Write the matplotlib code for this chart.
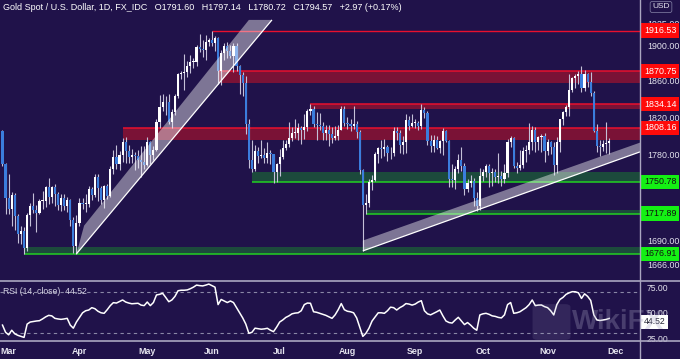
import numpy as np
import matplotlib
matplotlib.use("Agg")
import matplotlib.pyplot as plt
from matplotlib.ticker import FixedLocator, FixedFormatter, NullLocator
from matplotlib.patches import Polygon, FancyBboxPatch
from matplotlib.lines import Line2D

plt.rcParams['font.family'] = ['Liberation Sans', 'DejaVu Sans']

# daily bars, 25 Feb 2021 .. 29 Nov 2021
opens = [1805, 1770, 1734, 1723, 1737, 1715, 1697, 1700, 1683, 1716, 1726, 1722, 1719, 1731, 1731, 1745, 1735, 1745, 1738, 1727,
         1734, 1726, 1732, 1711, 1685, 1708, 1729, 1728, 1728, 1743, 1737, 1756, 1744, 1732, 1746, 1736, 1764, 1777, 1770, 1779,
         1793, 1783, 1777, 1779, 1778, 1774, 1772, 1769, 1793, 1779, 1785, 1815, 1831, 1837, 1836, 1815, 1826, 1843, 1867, 1869,
         1870, 1876, 1881, 1881, 1898, 1896, 1895, 1904, 1906, 1903, 1908, 1871, 1891, 1899, 1893, 1888, 1899, 1877, 1866, 1858,
         1812, 1774, 1764, 1783, 1778, 1779, 1776, 1781, 1780, 1761, 1770, 1777, 1787, 1791, 1797, 1803, 1803, 1808, 1806, 1809,
         1827, 1829, 1812, 1811, 1810, 1803, 1806, 1802, 1797, 1799, 1806, 1829, 1814, 1813, 1810, 1812, 1804, 1763, 1727, 1729,
         1751, 1753, 1780, 1787, 1786, 1788, 1781, 1781, 1805, 1803, 1790, 1793, 1817, 1810, 1814, 1814, 1810, 1828, 1824, 1794,
         1789, 1795, 1787, 1794, 1805, 1794, 1754, 1753, 1764, 1774, 1768, 1743, 1750, 1752, 1734, 1726, 1757, 1761, 1768, 1760,
         1761, 1756, 1757, 1754, 1760, 1793, 1797, 1768, 1765, 1769, 1783, 1784, 1793, 1806, 1793, 1798, 1800, 1783, 1793, 1788,
         1769, 1793, 1818, 1825, 1831, 1850, 1863, 1865, 1867, 1852, 1867, 1859, 1846, 1805, 1789, 1788, 1791, 1791.60]
highs = [1806, 1771, 1759, 1740, 1739, 1717, 1705, 1704, 1719, 1729, 1739, 1727, 1733, 1741, 1747, 1755, 1746, 1749, 1740, 1738,
         1738, 1735, 1733, 1714, 1716, 1734, 1734, 1738, 1746, 1745, 1759, 1759, 1746, 1748, 1749, 1768, 1785, 1790, 1783, 1797,
         1798, 1790, 1786, 1782, 1785, 1789, 1789, 1798, 1794, 1789, 1818, 1844, 1845, 1843, 1845, 1829, 1845, 1869, 1871, 1890,
         1882, 1889, 1886, 1900, 1913, 1906, 1912, 1908, 1916.5, 1910, 1909, 1895, 1903, 1904, 1900, 1903, 1903, 1878, 1870, 1865,
         1818, 1795, 1790, 1788, 1795, 1787, 1793, 1785, 1780, 1771, 1786, 1795, 1795, 1815, 1809, 1818, 1814, 1810, 1823, 1829,
         1834, 1832, 1825, 1824, 1815, 1811, 1811, 1809, 1810, 1811, 1832, 1832, 1820, 1818, 1832, 1816, 1806, 1764, 1738, 1754,
         1758, 1782, 1788, 1795, 1796, 1790, 1788, 1809, 1809, 1806, 1799, 1823, 1821, 1823, 1818, 1816, 1834, 1831, 1827, 1801,
         1801, 1800, 1795, 1808, 1806, 1795, 1770, 1767, 1780, 1788, 1771, 1754, 1758, 1755, 1740, 1765, 1764, 1770, 1770, 1765,
         1764, 1781, 1762, 1770, 1796, 1800, 1798, 1772, 1785, 1788, 1790, 1814, 1810, 1809, 1799, 1802, 1803, 1796, 1794, 1793,
         1798, 1818, 1827, 1833, 1868, 1864, 1868, 1871, 1877, 1872, 1869, 1870, 1849, 1812, 1795, 1795, 1815, 1797.14]
lows = [1767, 1717, 1717, 1705, 1701, 1688, 1687, 1677, 1680, 1705, 1719, 1699, 1718, 1723, 1725, 1728, 1729, 1726, 1722, 1721,
        1722, 1720, 1705, 1678, 1677, 1705, 1723, 1720, 1725, 1732, 1735, 1731, 1728, 1724, 1733, 1735, 1759, 1764, 1763, 1772,
        1771, 1771, 1771, 1763, 1765, 1756, 1764, 1767, 1770, 1774, 1783, 1808, 1827, 1822, 1813, 1808, 1822, 1841, 1862, 1850,
        1864, 1869, 1874, 1876, 1892, 1887, 1883, 1899, 1899, 1893, 1856, 1855, 1883, 1885, 1885, 1870, 1871, 1845, 1843, 1802,
        1765, 1761, 1762, 1771, 1776, 1771, 1771, 1770, 1750, 1751, 1757, 1775, 1785, 1788, 1794, 1797, 1795, 1791, 1796, 1805,
        1822, 1809, 1795, 1806, 1795, 1795, 1789, 1792, 1795, 1795, 1806, 1810, 1807, 1805, 1807, 1797, 1759, 1680, 1717, 1725,
        1742, 1752, 1771, 1776, 1778, 1773, 1775, 1778, 1795, 1781, 1780, 1781, 1806, 1809, 1808, 1806, 1807, 1819, 1790, 1782,
        1782, 1786, 1781, 1779, 1793, 1745, 1745, 1743, 1760, 1762, 1737, 1740, 1745, 1726, 1721, 1722, 1752, 1756, 1745, 1746,
        1751, 1750, 1746, 1750, 1756, 1788, 1765, 1760, 1763, 1765, 1772, 1780, 1785, 1782, 1784, 1782, 1772, 1779, 1780, 1758,
        1760, 1782, 1811, 1821, 1821, 1847, 1852, 1856, 1848, 1849, 1853, 1843, 1804, 1782, 1778, 1783, 1781, 1780.72]
closes = [1770, 1734, 1723, 1737, 1715, 1697, 1700, 1683, 1716, 1726, 1722, 1719, 1731, 1731, 1745, 1735, 1745, 1738, 1727, 1734,
          1726, 1732, 1711, 1685, 1708, 1729, 1728, 1728, 1743, 1737, 1756, 1744, 1732, 1746, 1736, 1764, 1777, 1770, 1779, 1793,
          1783, 1777, 1779, 1778, 1774, 1772, 1769, 1793, 1779, 1785, 1815, 1831, 1837, 1836, 1815, 1826, 1843, 1867, 1869, 1870,
          1876, 1881, 1881, 1898, 1896, 1895, 1904, 1906, 1903, 1908, 1871, 1891, 1899, 1893, 1888, 1899, 1877, 1866, 1858, 1812,
          1774, 1764, 1783, 1778, 1779, 1776, 1781, 1780, 1761, 1770, 1777, 1787, 1791, 1797, 1803, 1803, 1808, 1806, 1809, 1827,
          1829, 1812, 1811, 1810, 1803, 1806, 1802, 1797, 1799, 1806, 1829, 1814, 1813, 1810, 1812, 1804, 1763, 1727, 1729, 1751,
          1753, 1780, 1787, 1786, 1788, 1781, 1781, 1805, 1803, 1790, 1793, 1817, 1810, 1814, 1814, 1810, 1828, 1824, 1794, 1789,
          1795, 1787, 1794, 1805, 1794, 1754, 1753, 1764, 1774, 1768, 1743, 1750, 1752, 1734, 1726, 1757, 1761, 1768, 1760, 1761,
          1756, 1757, 1754, 1760, 1793, 1797, 1768, 1765, 1769, 1783, 1784, 1793, 1806, 1793, 1798, 1800, 1783, 1793, 1788, 1769,
          1793, 1818, 1825, 1831, 1850, 1863, 1865, 1867, 1852, 1867, 1859, 1846, 1805, 1789, 1788, 1791, 1791.6, 1794.57]

# RSI(14)
rsi = [38, 31, 28.5, 33, 29.5, 28, 27, 26, 39, 41, 41.5, 42, 42.3, 44, 46, 47.5, 47, 44.6, 44, 43.6,
       44, 44.6, 38, 35, 41, 45.5, 50, 52, 52.7, 55, 54, 51.5, 50, 49.5, 53, 57, 59.9, 59.5, 61, 62.5,
       60.5, 59.5, 58.8, 59, 59.3, 57.5, 57, 60.5, 57, 60, 67.4, 68, 69, 65, 60.8, 62.5, 66, 71.5, 72, 72,
       72.3, 73.5, 75, 77, 76.5, 76.2, 77, 78, 76.5, 75, 58, 63, 61.5, 60, 61.5, 60, 55, 50, 45, 39,
       30, 31, 35, 34.5, 34, 34.3, 34.9, 33, 31.6, 36, 41, 43, 45.5, 47, 49, 49.7, 50, 52, 58, 59.5,
       59.3, 51, 50.5, 49.5, 48.5, 47.5, 46, 44.6, 48, 53, 59, 53, 51.5, 51, 50, 45, 36, 27, 30, 35,
       42, 46, 50, 50, 49.5, 52, 55.5, 55, 52.7, 55, 56.6, 59, 58.5, 57.5, 58.5, 60.5, 61.8, 52, 49, 48,
       49.5, 51, 52.7, 47, 42, 40.5, 40, 43, 45.6, 42, 38.5, 40.5, 38, 35, 33, 47.9, 49, 49.5, 48.5, 47,
       46.5, 45.5, 45, 48, 58, 60, 49.5, 50, 51, 53, 55, 58, 62.5, 57, 57.5, 57.6, 56, 55, 52, 47.9,
       58, 63, 65, 68, 69.5, 70.6, 70.5, 69.5, 64, 68.5, 66, 62, 48, 43, 42.5, 43, 43.5, 44.52]

months = ['Mar', 'Apr', 'May', 'Jun', 'Jul', 'Aug', 'Sep', 'Oct', 'Nov', 'Dec']
month_bars = [2, 25, 47, 68, 90, 112, 134, 156, 177, 199]
price_ticks = [1666, 1690, 1780, 1820, 1860, 1900, 1925]
rsi_ticks = [25, 50, 75]

# horizontal zones: level, other edge of band, first bar
res_levels = [1870.75, 1834.14, 1808.16]
res_edges = [1857.0, 1828.5, 1795.5]
res_start = [70, 100, 39]
sup_levels = [1750.78, 1717.89, 1676.91]
sup_edges = [1761.0, 1722.0, 1684.0]
sup_start = [81, 118, 7]
top_level = 1916.53
top_start = 68

# trend wedges (bar, price); first two points are the drawn trendline
wedge1_x = [24, 87.5, 80.0, 26.5]
wedge1_y = [1677, 1928.9, 1928.9, 1705.6]
wedge2_x = [117, 207, 207, 117]
wedge2_y = [1680, 1782.5, 1792.4, 1690.4]

title = "Gold Spot / U.S. Dollar, 1D, FX_IDC   O1791.60   H1797.14   L1780.72   C1794.57   +2.97 (+0.17%)"

bg = '#20124a'
bull = '#ffffff'
bear = '#3b7ddd'
wick = '#c4c0d8'
grid_line = '#aaa6c0'
txt = '#e4e3ee'

W, H = 680, 359
fig = plt.figure(figsize=(6.8, 3.59), dpi=100, facecolor=bg)
ax = fig.add_axes([0, 1 - 279 / H, 640 / W, 279 / H], facecolor=bg)
rax = fig.add_axes([0, 1 - 341 / H, 640 / W, 60 / H], facecolor=bg)

x = np.arange(len(closes))
xmax = 207
o = np.array(opens); c = np.array(closes)
h = np.array(highs); l = np.array(lows)

# zones
for lev, edge, s in zip(res_levels, res_edges, res_start):
    ax.fill_between([s, xmax], edge, lev, color='#7a1236', lw=0, zorder=1)
    ax.hlines(lev, s, xmax, color='#e8102e', lw=1.1, zorder=2)
ax.hlines(top_level, top_start, xmax, color='#e8102e', lw=1.0, zorder=2)
for lev, edge, s in zip(sup_levels, sup_edges, sup_start):
    ax.fill_between([s, xmax], lev, edge, color='#1c4a3c', lw=0, zorder=1)
    ax.hlines(lev, s, xmax, color='#22d022', lw=1.1, zorder=2)

# candles
bottoms = np.minimum(o, c)
heights = np.maximum(np.abs(c - o), 0.6)
cols = [bull if cc >= oo else bear for oo, cc in zip(o, c)]
ax.vlines(x, l, h, color=wick, lw=0.8, zorder=3)
ax.bar(x, heights, bottom=bottoms, width=0.7, color=cols, lw=0, zorder=4)

# trend wedges
for wx, wy in [(wedge1_x, wedge1_y), (wedge2_x, wedge2_y)]:
    ax.add_patch(Polygon(list(zip(wx, wy)), closed=True, fc='white', ec='none', alpha=0.42, zorder=5))
    ax.plot(wx[:2], wy[:2], color='white', lw=0.9, zorder=6, solid_capstyle='butt')

ax.set_yscale('log')
ax.set_ylim(1652, 1952)
ax.set_xlim(-0.81, xmax)
ax.yaxis.tick_right()
ax.yaxis.set_major_locator(FixedLocator(price_ticks))
ax.yaxis.set_major_formatter(FixedFormatter([f'{v:.2f}' for v in price_ticks]))
ax.yaxis.set_minor_locator(NullLocator())
ax.tick_params(axis='y', length=0, pad=5, labelsize=6.4, labelcolor=txt)
ax.set_xticks([])
for s in ax.spines.values():
    s.set_visible(False)

yt = ax.get_yaxis_transform()
for lev in [top_level] + res_levels:
    ax.text(1.006, lev, f'{lev:.2f}', transform=yt, ha='left', va='center', fontsize=6.4,
            color='white', zorder=10, clip_on=False,
            bbox=dict(boxstyle='square,pad=0.3', fc='#ff0a0a', ec='none'))
for lev in sup_levels:
    ax.text(1.006, lev, f'{lev:.2f}', transform=yt, ha='left', va='center', fontsize=6.4,
            color='#111111', zorder=10, clip_on=False,
            bbox=dict(boxstyle='square,pad=0.3', fc='#14f014', ec='none'))

# RSI pane
rax.plot(x, rsi, color='white', lw=1.1, zorder=3)
rax.axhline(70, color='#8a87a6', lw=0.8, ls=(0, (3, 3)), zorder=1)
rax.axhline(30, color='#8a87a6', lw=0.8, ls=(0, (3, 3)), zorder=1)
rax.set_ylim(22.5, 81)
rax.set_xlim(-0.81, xmax)
rax.yaxis.tick_right()
rax.set_yticks(rsi_ticks)
rax.set_yticklabels([f'{v:.2f}' for v in rsi_ticks])
rax.tick_params(axis='y', length=0, pad=5, labelsize=6.2, labelcolor=txt)
rax.set_xticks(month_bars)
rax.set_xticklabels(months, fontweight='bold')
rax.tick_params(axis='x', length=0, pad=4, labelsize=6.4, labelcolor=txt)
for s in rax.spines.values():
    s.set_visible(False)
rax.annotate(f'{rsi[-1]:.2f}', xy=(1.006, rsi[-1]), xycoords=rax.get_yaxis_transform(),
             xytext=(0, -2.5), textcoords='offset points', ha='left', va='center',
             fontsize=6.2, color='#222233', zorder=10, annotation_clip=False,
             bbox=dict(boxstyle='square,pad=0.3', fc='white', ec='none'))

# pane separators
fig.add_artist(Line2D([640 / W, 640 / W], [0, 1], color=grid_line, lw=1.0))
for yy in [280.5, 341]:
    fig.add_artist(Line2D([0, 1], [1 - yy / H, 1 - yy / H], color=grid_line, lw=1.2))

fig.text(3 / W, 1 - 8 / H, title, fontsize=6.5, color='white', va='center', ha='left')
fig.text(3 / W, 1 - 292 / H, f'RSI (14, close)  {rsi[-1]:.2f}', fontsize=6.2, color='#d6d4e4', va='center', ha='left')
fig.text(661 / W, 1 - 7 / H, 'USD', fontsize=6, color=txt, va='center', ha='center',
         bbox=dict(boxstyle='round,pad=0.25', fc=bg, ec='#77739a', lw=0.6))

# watermark
fig.add_artist(FancyBboxPatch((538 / W, 1 - 337 / H), 27 / W, 30 / H, boxstyle='round,pad=0.008',
                              transform=fig.transFigure, fc='#a8a4c4', ec='none', alpha=0.14))
fig.text(572 / W, 1 - 322 / H, 'WikiFX', fontsize=20, fontweight='bold', color='#a8a4c4', alpha=0.3,
         va='center', ha='left')

fig.savefig('out.png', dpi=100, facecolor=bg)
